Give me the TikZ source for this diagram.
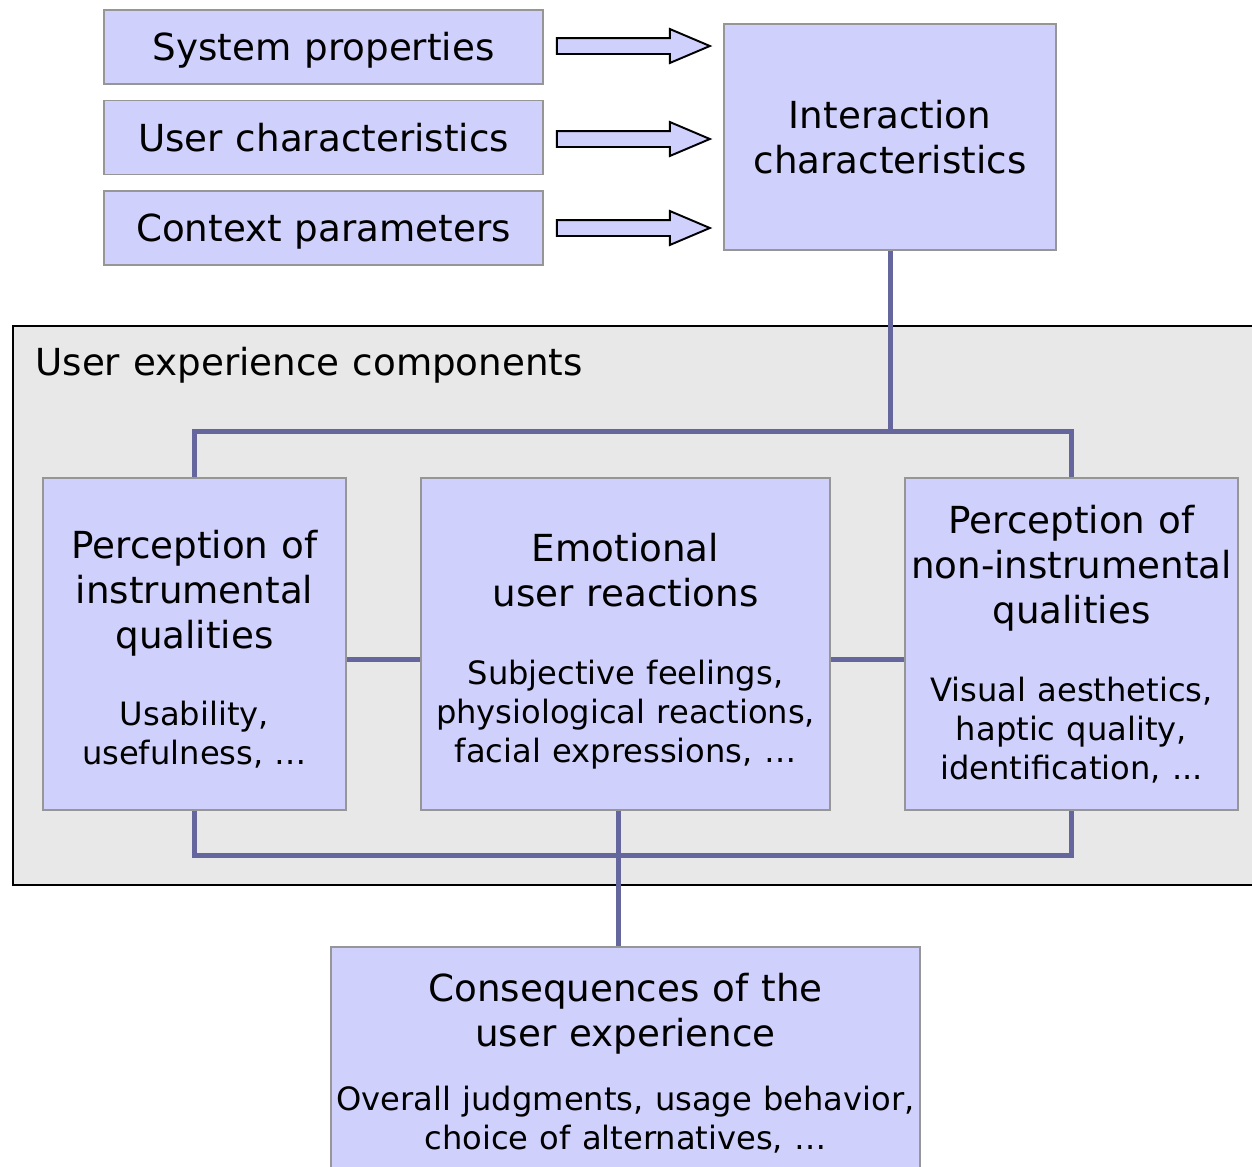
\documentclass[tikz,border=0pt]{standalone}
\usepackage{fontspec}
\setmainfont{DejaVu Sans}
\usepackage{tikz}
\usetikzlibrary{calc,positioning,shapes,shapes.arrows}
\definecolor{boxfill}{RGB}{208,208,252}
\definecolor{boxline}{RGB}{150,150,150}
\definecolor{linkcol}{RGB}{102,102,158}
\definecolor{panelfill}{RGB}{232,232,232}
\newcommand{\bigtxt}{\fontsize{21.2}{25.6}\selectfont\spaceskip=.35em\xspaceskip=.35em}
\newcommand{\smalltxt}{\fontsize{18.3}{22.2}\selectfont\spaceskip=.35em\xspaceskip=.35em}
\tikzset{
  link/.style={draw=linkcol, line width=2.85pt},
  blockarrow/.style={single arrow, draw=black, fill=boxfill, line width=1.1pt,
                     inner xsep=0pt, inner ysep=0.14cm, minimum height=3.06cm,
                     single arrow head extend=0.18cm, single arrow tip angle=46}
}
\tikzstyle{uxbox}=[draw=boxline, fill=boxfill, line width=0.9pt, align=center, inner sep=0pt]
\tikzstyle{inputbox}=[uxbox, minimum width=8.78cm, minimum height=1.48cm, font=\bigtxt,
                      text height=18pt, text depth=2.4pt]
\tikzstyle{panel}=[draw=black, fill=panelfill, line width=1.1pt, minimum width=25.14cm, minimum height=11.18cm]
\newcommand{\uxcontent}[4][0pt]{%
  {\bigtxt\rule{0pt}{#1}#2\par}\vspace{#4}{\smalltxt #3\par}}

\begin{document}
\begin{tikzpicture}[x=0.02cm,y=-0.02cm]
  \useasboundingbox (0,0) rectangle (1252,1167);

  % Draw the input boxes
  \path (323.5,47) node (sysprop) [inputbox] {System properties};
  \path (323.5,137.5) node (userchar) [inputbox] {User characteristics};
  \path (323.5,228) node (ctxparam) [inputbox] {Context parameters};
  \path (890,137) node (inter) [uxbox, minimum width=6.64cm, minimum height=4.52cm, font=\bigtxt] {Interaction\\characteristics};

  % Draw the block arrows
  \path (624,46) node (arrA) [blockarrow] {};
  \path (624,139) node (arrB) [blockarrow] {};
  \path (624,228) node (arrC) [blockarrow] {};

  % Draw the user experience panel
  \path (641.5,605.5) node (uxc) [panel] {};
  \path (35,375) node (uxctitle) [anchor=base west, inner sep=0pt, font=\bigtxt] {User experience components};

  % Draw the component boxes
  \path (194.5,644) node (instr) [uxbox, minimum width=6.06cm, minimum height=6.64cm, text width=5.9cm]
    {\uxcontent[22pt]{Perception of\\instrumental\\qualities}{Usability,\\usefulness, …}{22pt}};
  \path (625.5,644) node (emo) [uxbox, minimum width=8.18cm, minimum height=6.64cm, text width=8cm]
    {\uxcontent[24pt]{Emotional\\user reactions}{Subjective feelings,\\physiological reactions,\\facial expressions, …}{22pt}};
  \path (1071.5,644) node (noninstr) [uxbox, minimum width=6.66cm, minimum height=6.64cm, text width=6.5cm]
    {\uxcontent{Perception of\\non-instrumental\\qualities}{Visual aesthetics,\\haptic quality,\\identification, ...}{22pt}};
  \path (625.5,946) node (cons) [uxbox, anchor=north, minimum width=11.78cm, text width=11.6cm, inner ysep=15.3pt]
    {\uxcontent{Consequences of the\\user experience}{Overall judgments, usage behavior,\\choice of alternatives, …}{13.7pt}};

  % Draw links between boxes
  \coordinate (split) at (890,432);
  \path [link] (inter.south) -- (split);
  \path [link] (instr.north) -- ++(0,-46) -| (noninstr.north);
  \path [link] ($(instr.east)+(0,15)$) -- ($(emo.west)+(0,15)$);
  \path [link] ($(emo.east)+(0,15)$) -- ($(noninstr.west)+(0,15)$);
  \path [link] (instr.south) -- ++(0,45) -| (noninstr.south);
  \path [link] ($(emo.south)+(-7,0)$) -- ($(cons.north)+(-7,0)$);
\end{tikzpicture}
\end{document}
